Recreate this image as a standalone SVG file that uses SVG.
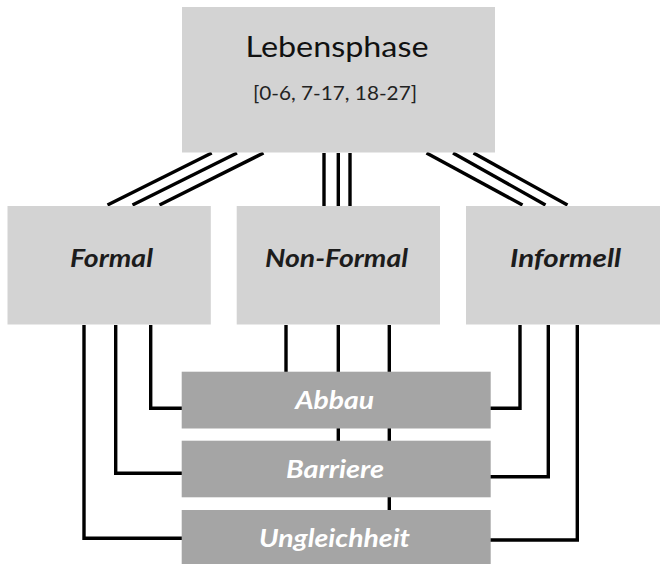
<svg xmlns="http://www.w3.org/2000/svg" width="660" height="564" viewBox="0 0 660 564">
<style>
.light{fill:#d3d3d3}
.dark{fill:#a5a5a5}
.conn{stroke:#000;stroke-width:3.4;fill:none;stroke-linecap:butt;stroke-linejoin:miter}
.t{font-family:Lato,"Liberation Sans",sans-serif;text-anchor:middle}
.title{font-size:29px;fill:#111}
.sub{font-size:20px;fill:#222}
.mid{font-size:25px;font-weight:bold;font-style:italic;fill:#1c1c1c}
.low{font-size:25px;font-weight:bold;font-style:italic;fill:#fff}
</style>
<rect width="660" height="564" fill="#fff"/>
<g id="connectors">
<line class="conn" x1="211.7" y1="153" x2="107.5" y2="205"/>
<line class="conn" x1="237" y1="153" x2="132.5" y2="205"/>
<line class="conn" x1="263.5" y1="153" x2="159.5" y2="205"/>
<line class="conn" x1="324" y1="153" x2="324" y2="206"/>
<line class="conn" x1="338.3" y1="153" x2="338.3" y2="206"/>
<line class="conn" x1="350" y1="153" x2="350" y2="206"/>
<line class="conn" x1="426.5" y1="153" x2="522.5" y2="205"/>
<line class="conn" x1="453" y1="153" x2="545.5" y2="205"/>
<line class="conn" x1="473.5" y1="153" x2="567.5" y2="205"/>
<polyline class="conn" points="150.7,325 150.7,408.3 182,408.3"/>
<polyline class="conn" points="115.7,325 115.7,473.3 182,473.3"/>
<polyline class="conn" points="84,325 84,538.3 182,538.3"/>
<polyline class="conn" points="520,325 520,408.3 490,408.3"/>
<polyline class="conn" points="548.3,325 548.3,476.7 490,476.7"/>
<polyline class="conn" points="577.3,325 577.3,540 490,540"/>
<line class="conn" x1="286" y1="325" x2="286" y2="372"/>
<line class="conn" x1="338.3" y1="325" x2="338.3" y2="441"/>
<line class="conn" x1="389.3" y1="325" x2="389.3" y2="510"/>
</g>
<g id="lebensphase">
<rect class="light" x="182" y="7" width="313" height="145.5"/>
<text class="t title" x="337" y="57.3" textLength="183" lengthAdjust="spacingAndGlyphs">Lebensphase</text>
<text class="t sub" x="335" y="100" textLength="164" lengthAdjust="spacingAndGlyphs">[0-6, 7-17, 18-27]</text>
</g>
<g id="formal">
<rect class="light" x="7.5" y="206" width="203.3" height="118.5"/>
<text class="t mid" x="111.5" y="267.3" textLength="83" lengthAdjust="spacingAndGlyphs">Formal</text>
</g>
<g id="non-formal">
<rect class="light" x="236.7" y="206" width="203.3" height="118.5"/>
<text class="t mid" x="336.5" y="267.3" textLength="143" lengthAdjust="spacingAndGlyphs">Non-Formal</text>
</g>
<g id="informell">
<rect class="light" x="466" y="206" width="194" height="118.5"/>
<text class="t mid" x="565.5" y="267.3" textLength="111" lengthAdjust="spacingAndGlyphs">Informell</text>
</g>
<g id="abbau">
<rect class="dark" x="181.7" y="371.7" width="309" height="56.8"/>
<text class="t low" x="334.7" y="409.3" textLength="79" lengthAdjust="spacingAndGlyphs">Abbau</text>
</g>
<g id="barriere">
<rect class="dark" x="181.7" y="440.7" width="309" height="56.6"/>
<text class="t low" x="335" y="478.3" textLength="98" lengthAdjust="spacingAndGlyphs">Barriere</text>
</g>
<g id="ungleichheit">
<rect class="dark" x="181.7" y="510" width="309" height="57"/>
<text class="t low" x="334.5" y="547" textLength="151" lengthAdjust="spacingAndGlyphs">Ungleichheit</text>
</g>
</svg>
